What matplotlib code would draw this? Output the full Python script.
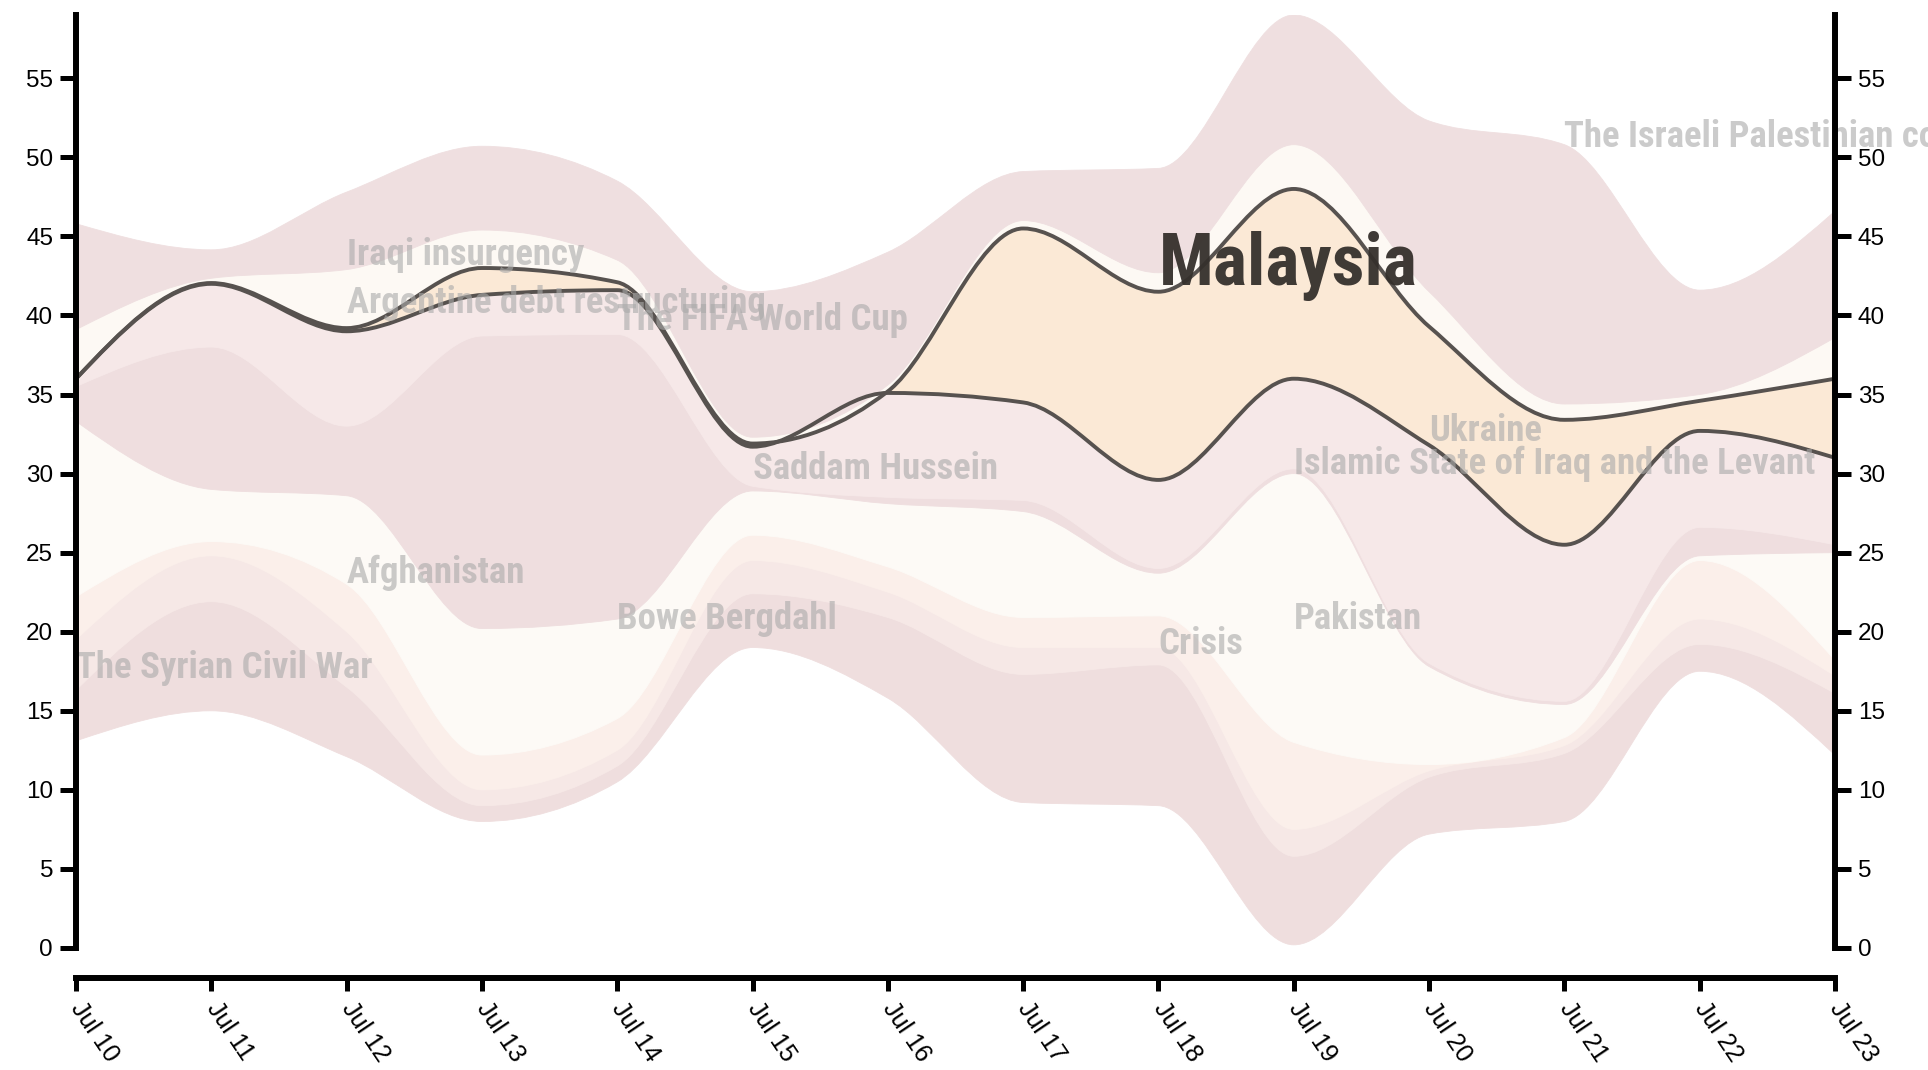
import numpy as np
import matplotlib
matplotlib.use("Agg")
import matplotlib.pyplot as plt
from matplotlib.path import Path
from matplotlib.patches import PathPatch

# ---------------- data ----------------
days = [10, 11, 12, 13, 14, 15, 16, 17, 18, 19, 20, 21, 22, 23]
tick_labels = ["Jul %d" % d for d in days]

baseline = [13.1, 15.0, 12.1, 8.0, 10.5, 19.0, 15.8, 9.2, 9.0, 0.2, 7.2, 8.0, 17.5, 12.2]

syrian     = [3.2, 6.9, 4.4, 1.0, 1.0, 3.4, 5.1, 8.1, 8.9, 5.6, 3.6, 4.3, 1.7, 3.9]
crisis     = [3.2, 2.9, 3.5, 1.0, 1.0, 2.1, 1.6, 1.7, 1.1, 1.7, 0.4, 0.5, 1.6, 1.1]
pakistan   = [2.7, 0.9, 3.0, 2.2, 2.0, 1.6, 1.6, 1.9, 2.0, 5.5, 0.4, 0.5, 3.7, 1.0]
bowe       = [11.1, 3.3, 5.6, 8.0, 6.3, 2.8, 4.0, 6.7, 2.7, 17.0, 6.2, 2.1, 0.3, 6.8]
afghan     = [2.2, 9.0, 4.4, 18.5, 18.0, 0.3, 0.4, 0.7, 0.3, 0.3, 0.2, 0.2, 1.8, 0.5]
saddam     = [0.5, 4.0, 6.0, 2.6, 2.8, 2.5, 6.6, 6.2, 5.6, 5.7, 13.8, 9.9, 6.1, 5.5]
malaysia   = [0.0, 0.05, 0.2, 1.7, 0.5, 0.2, 0.1, 11.0, 11.9, 12.0, 7.5, 7.9, 1.9, 5.0]
argentine  = [3.1, 0.3, 3.7, 2.4, 1.4, 0.4, 0.4, 0.5, 1.2, 2.8, 2.2, 1.0, 0.4, 2.6]
israeli    = [6.7, 1.8, 4.9, 5.3, 5.0, 9.2, 8.4, 3.1, 6.6, 8.2, 10.8, 16.4, 6.6, 8.0]

layers = [syrian, crisis, pakistan, bowe, afghan, saddam, malaysia, argentine, israeli]
layer_colors = ["#efdede", "#f6e8e6", "#fbefea", "#fdfaf6", "#efdedf",
                "#f6e8e8", "#fbe9d6", "#fdf9f4", "#efdfe0"]
highlight = 6  # Malaysia

label_texts = ["The Syrian Civil War", "Afghanistan", "Iraqi insurgency",
               "Argentine debt restructuring", "The FIFA World Cup", "Saddam Hussein",
               "Bowe Bergdahl", "Crisis", "Pakistan", "Ukraine",
               "Islamic State of Iraq and the Levant", "The Israeli Palestinian conflict"]
label_day = [10, 12, 12, 12, 14, 15, 14, 18, 19, 20, 19, 21]
label_val = [17.7, 23.7, 43.8, 40.8, 39.7, 30.3, 20.8, 19.2, 20.8, 32.7, 30.6, 51.3]
main_label = "Malaysia"
main_label_day = 18
main_label_val = 43.1

yticks = list(range(0, 60, 5))


# ---------------- helpers ----------------
def monotone_slopes(x, y):
    x = np.asarray(x, float); y = np.asarray(y, float)
    n = len(x)
    h = np.diff(x)
    s = np.diff(y) / h
    m = np.zeros(n)
    for i in range(1, n - 1):
        s0, s1 = s[i - 1], s[i]
        p = (s0 * h[i] + s1 * h[i - 1]) / (h[i - 1] + h[i])
        m[i] = (np.sign(s0) + np.sign(s1)) * min(abs(s0), abs(s1), 0.5 * abs(p))
    m[0] = (3 * s[0] - m[1]) / 2
    m[-1] = (3 * s[-1] - m[-2]) / 2
    return m


def bezier_verts(x, y):
    m = monotone_slopes(x, y)
    verts = [(x[0], y[0])]
    for i in range(len(x) - 1):
        h = x[i + 1] - x[i]
        verts += [(x[i] + h / 3, y[i] + m[i] * h / 3),
                  (x[i + 1] - h / 3, y[i + 1] - m[i + 1] * h / 3),
                  (x[i + 1], y[i + 1])]
    return verts


def band_path(x, y0, y1):
    lo = bezier_verts(x, y0)
    up = bezier_verts(x, y1)
    nseg = 3 * (len(x) - 1)
    verts = lo + up[::-1] + [lo[0]]
    codes = ([Path.MOVETO] + [Path.CURVE4] * nseg + [Path.LINETO] +
             [Path.CURVE4] * nseg + [Path.CLOSEPOLY])
    return Path(verts, codes)


def line_path(x, y):
    v = bezier_verts(x, y)
    return Path(v, [Path.MOVETO] + [Path.CURVE4] * (len(v) - 1))


label_family = ["Roboto Condensed", "DejaVu Sans"]
tick_family = ["Liberation Sans", "DejaVu Sans"]

# ---------------- figure ----------------
W, H = 1928, 1070
fig = plt.figure(figsize=(W / 100, H / 100), dpi=100)
ax = fig.add_axes([76 / W, 1 - 948 / H, (1835 - 76) / W, (948 - 15) / H])

for s in ("left", "right", "bottom"):
    ax.spines[s].set_linewidth(4.3)
    ax.spines[s].set_zorder(10)
ax.spines["top"].set_visible(False)
ax.spines["bottom"].set_position(("outward", 21.6))

x = np.array(days, float)
cum = np.array(baseline, float)
bounds = [cum.copy()]
for lay in layers:
    cum = cum + np.array(lay, float)
    bounds.append(cum.copy())

for i, lay in enumerate(layers):
    p = band_path(x, bounds[i], bounds[i + 1])
    ax.add_patch(PathPatch(p, facecolor=layer_colors[i], edgecolor=layer_colors[i],
                           lw=0.6, zorder=1 + i * 0.01))

# Malaysia outlines
for b in (bounds[highlight], bounds[highlight + 1]):
    ax.add_patch(PathPatch(line_path(x, b), facecolor="none", edgecolor="#57524f",
                           lw=2.8, zorder=3, capstyle="round", joinstyle="round"))

for t, d, v in zip(label_texts, label_day, label_val):
    ax.text(d, v, t, fontsize=26.5, fontweight="bold", family=label_family,
            color="#a9a9a9", alpha=0.6, ha="left", va="center", zorder=4,
            clip_on=False)
ax.text(main_label_day, main_label_val, main_label, fontsize=52, fontweight="bold",
        family=label_family, color="#35302c", alpha=0.95,
        ha="left", va="center", zorder=5, clip_on=False)

ax.set_xlim(days[0], days[-1])
ax.set_ylim(0, bounds[-1].max())

ax.set_xticks(days)
ax.set_xticklabels(tick_labels, rotation=-56, ha="left", va="center",
                   rotation_mode="anchor", family=tick_family, fontsize=18)
ax.set_yticks(yticks)
ax.set_yticklabels([str(v) for v in yticks], family=tick_family, fontsize=17.5)

ax.tick_params(axis="y", which="both", left=True, right=True, labelleft=True,
               labelright=True, direction="out", length=11.5, width=3.6, pad=5)
ax.tick_params(axis="x", direction="out", length=9, width=3.6, pad=10)
ax.set_facecolor("white")

fig.savefig("out.png", dpi=100, facecolor="white")
